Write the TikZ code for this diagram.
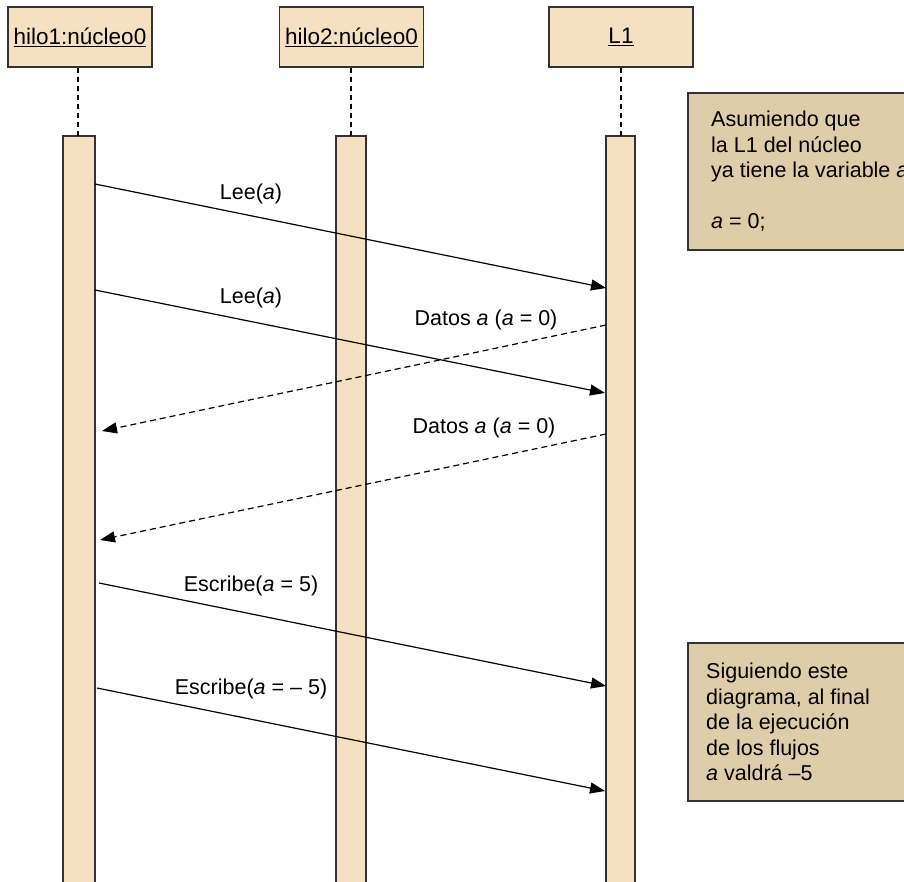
\documentclass[tikz,border=0pt]{standalone}
\usepackage{fontspec}
\setmainfont{Liberation Sans}
\usetikzlibrary{arrows.meta}
\definecolor{boxfill}{HTML}{F5E1C1}
\definecolor{notefill}{HTML}{DFCDAA}
\definecolor{edge}{HTML}{333333}
\begin{document}
\begin{tikzpicture}[x=1pt,y=-1pt,
  every node/.style={font=\fontsize{21.5}{25.5}\selectfont, inner sep=0pt},
  header/.style={draw=edge, line width=1.4pt, fill=boxfill, minimum width=144pt, minimum height=60pt,
    font=\fontsize{22.5}{27}\selectfont},
  bar/.style={draw=edge, line width=1.2pt, fill=boxfill},
  note/.style={draw=edge, line width=1.2pt, fill=notefill},
  life/.style={line width=1.3pt, dash pattern=on 5pt off 4pt},
  msg/.style={line width=1.2pt, -{Triangle[length=15pt,width=11pt]}},
  reply/.style={msg, dash pattern=on 6pt off 4pt},
  lbl/.style={anchor=center}]
\useasboundingbox (0,0) rectangle (904,881);

% participants
\node[header] (h1) at (80,37) {\underline{hilo1:núcleo0}};
\node[header] (h2) at (351.5,37) {\underline{hilo2:núcleo0}};
\node[header] (l1) at (621,37) {\underline{L1}};

% activation bars
\draw[bar] (63,136) rectangle (95,900);
\draw[bar] (336,136) rectangle (366,900);
\draw[bar] (606,136) rectangle (635,900);
\coordinate (b1) at (78,136);
\coordinate (b2) at (351,136);
\coordinate (b3) at (621,136);
\draw[life] (h1.south -| b1) -- (b1);
\draw[life] (h2.south -| b2) -- (b2);
\draw[life] (l1.south -| b3) -- (b3);

% notes
\draw[note] (688,93) rectangle (920,250);
\node[anchor=north west, align=left] (n1) at (711,111)
  {Asumiendo que\\la L1 del núcleo\\ya tiene la variable \textit{a}\\[25.5pt]\textit{a} = 0;};
\draw[note] (688,643) rectangle (920,801);
\node[anchor=north west, align=left] (n2) at (706,663)
  {Siguiendo este\\diagrama, al final\\de la ejecución\\de los flujos\\\textit{a} valdrá –5};

% message end points
\coordinate (m1a) at (95,184);  \coordinate (m1b) at (606,288);
\coordinate (m2a) at (95,290);  \coordinate (m2b) at (605,393);
\coordinate (m3a) at (606,325); \coordinate (m3b) at (102,431);
\coordinate (m4a) at (606,434); \coordinate (m4b) at (100,540);
\coordinate (m5a) at (99,583);  \coordinate (m5b) at (606,686);
\coordinate (m6a) at (97,688);  \coordinate (m6b) at (605,791);

% messages
\draw[msg] (m1a) -- (m1b);
\draw[msg] (m2a) -- (m2b);
\draw[reply] (m3a) -- (m3b);
\draw[reply] (m4a) -- (m4b);
\draw[msg] (m5a) -- (m5b);
\draw[msg] (m6a) -- (m6b);

% message labels
\node[lbl] (t1) at (251,194) {Lee(\textit{a})};
\node[lbl] (t2) at (251,298) {Lee(\textit{a})};
\node[lbl] (t3) at (486,320) {Datos \textit{a} (\textit{a} = 0)};
\node[lbl] (t4) at (484,428) {Datos \textit{a} (\textit{a} = 0)};
\node[lbl] (t5) at (251,586) {Escribe(\textit{a} = 5)};
\node[lbl] (t6) at (251,689) {Escribe(\textit{a} = – 5)};
\end{tikzpicture}
\end{document}
